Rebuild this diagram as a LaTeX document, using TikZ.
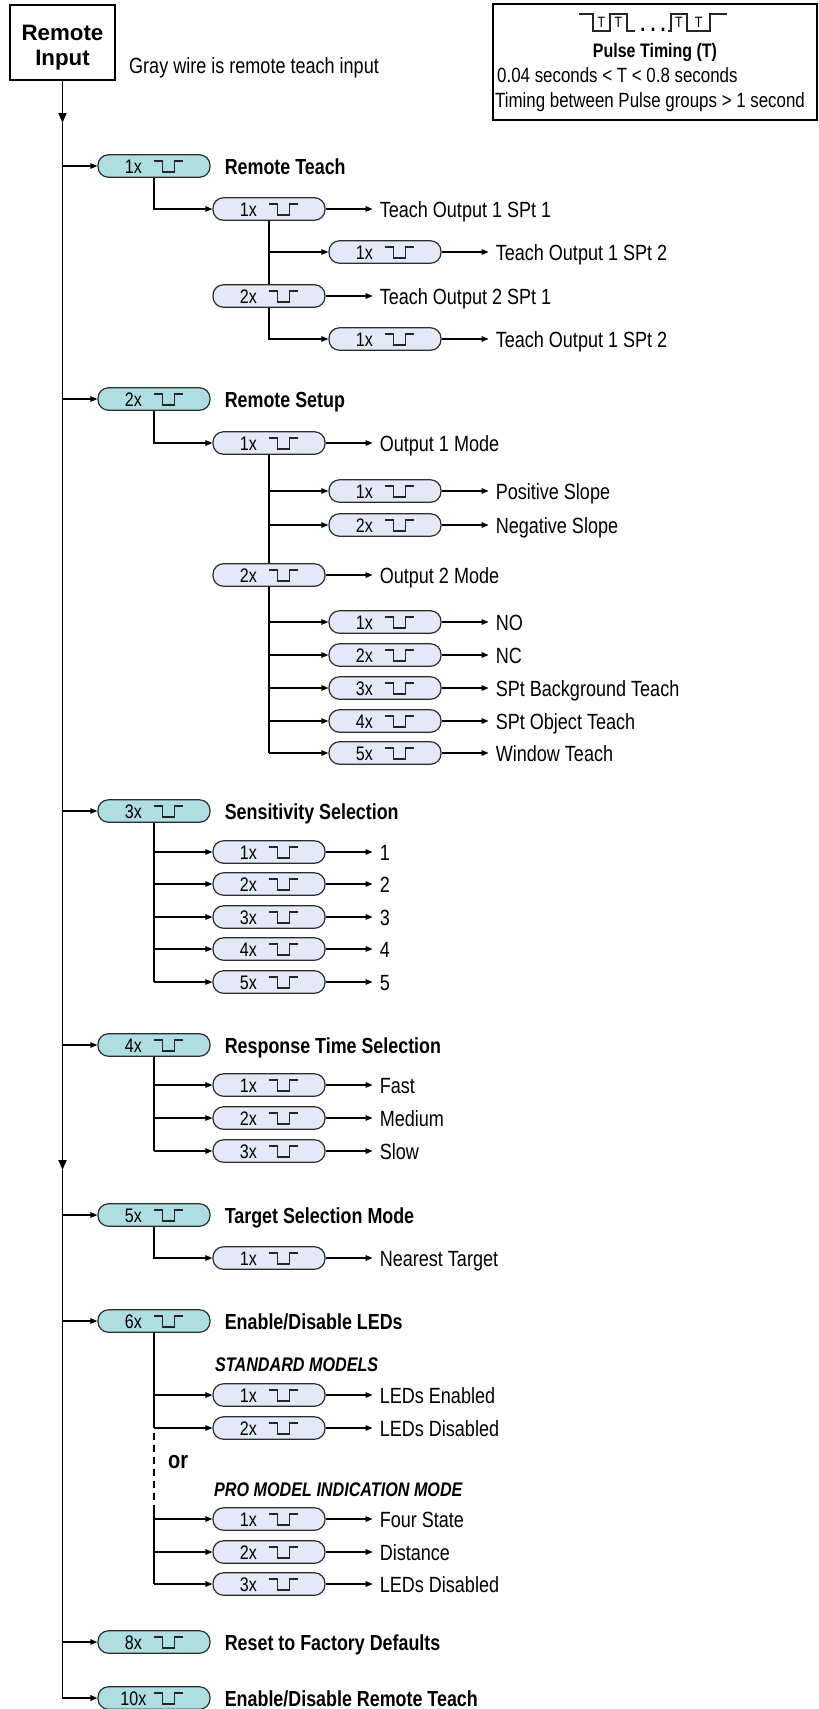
\documentclass[tikz,border=0pt]{standalone}
\usepackage{fontspec}
\setmainfont{Liberation Sans}[FakeStretch=0.82]
\newfontfamily\widesans{Liberation Sans}
\usetikzlibrary{arrows.meta,calc}
\definecolor{teal1}{RGB}{174,221,226}
\definecolor{lav}{RGB}{227,233,246}
\definecolor{pb}{RGB}{45,45,45}

\newcommand\mkpill[5]{%
  \node[#5] (#1) at (#2,#3) {};
  \node[pilltxt] (#1n) at ($(#1.west)+(36,7)$) {#4};
  \draw[pulseln] ($(#1.west)+(57,-5)$) -- ++(8,0) -- ++(0,11) -- ++(12,0) -- ++(0,-11) -- ++(9,0);
}
\newcommand\mklabel[2]{%
  \node[lbltxt] (#1l) at ($(#1.east)+(54,8)$) {#2};
  \draw[conn,shorten >=7pt] (#1.east) -- (#1.east -| #1l.west);
}
\newcommand\mkhead[2]{%
  \node[headtxt] (#1h) at ($(#1.east)+(14,8)$) {#2};
}

\begin{document}
\begin{tikzpicture}[x=1pt,y=-1pt,
  pillbase/.style={rectangle, rounded corners=10.5pt, minimum width=112pt, minimum height=22.5pt, draw=pb, line width=1.2pt, inner sep=0pt},
  pmain/.style={pillbase, fill=teal1},
  psub/.style={pillbase, fill=lav},
  pilltxt/.style={anchor=base, inner sep=0pt, font=\fontsize{19.6}{21}\selectfont},
  lbltxt/.style={anchor=base west, inner sep=0pt, font=\fontsize{22}{24}\selectfont},
  headtxt/.style={anchor=base west, inner sep=0pt, font=\bfseries\fontsize{21.8}{24}\selectfont},
  itlbl/.style={anchor=base west, inner sep=0pt, font=\bfseries\itshape\fontsize{19.7}{21}\selectfont},
  pulseln/.style={draw=black!85, line width=1.1pt},
  conn/.style={draw=black, line width=1.3pt, -{Triangle[length=7pt,width=5.5pt]}},
  trunk/.style={draw=black, line width=1.3pt},
  mainl/.style={draw=black, line width=1.8pt},
  bigtip/.style={-{Triangle[length=10pt,width=8pt]}},
  boxtxt/.style={anchor=base west, inner sep=0pt, font=\fontsize{20.6}{22}\selectfont},
  ttxt/.style={inner sep=0pt, font=\fontsize{15}{16}\selectfont},
  ritxt/.style={anchor=base, inner sep=0pt, font=\widesans\bfseries\fontsize{22.3}{24}\selectfont}
]
\useasboundingbox (0,0) rectangle (819,1709);
\fill[white] (0,0) rectangle (819,1709);

% Remote input box
\node[draw, line width=2.5pt, minimum width=105pt, minimum height=75pt, inner sep=0pt] (ri) at (62.5,42.5) {};
\node[ritxt] (ri1) at (62.5,40) {Remote};
\node[ritxt] (ri2) at (62.5,65) {Input};
\node[lbltxt] (gw) at (129,73) {Gray wire is remote teach input};

% Pulse timing box
\node[draw, line width=1.6pt, minimum width=324pt, minimum height=116pt, inner sep=0pt] (pt) at (655,62) {};
\draw[pulseln] (579,14) -- (593,14) -- (593,31) -- (610,31) -- (610,14) -- (627,14) -- (627,31) -- (635,31);
\draw[pulseln] (668,31) -- (671,31) -- (671,14) -- (687,14) -- (687,31) -- (710,31) -- (710,14) -- (727,14);
\node[ttxt] (t1) at (601.5,22.5) {T};
\node[ttxt] (t2) at (618.5,22.5) {T};
\node[ttxt] (t3) at (679,22.5) {T};
\node[ttxt] (t4) at (698.5,22.5) {T};
\node[anchor=base, inner sep=0pt, font=\bfseries\fontsize{22}{23}\selectfont] (dots) at (653,31.5) {.\hspace{5pt}.\hspace{5pt}.};
\node[anchor=base, inner sep=0pt, font=\bfseries\fontsize{19.5}{21}\selectfont] (ptt) at (655,57) {Pulse Timing (T)};
\node[boxtxt] (pt1) at (497,82) {0.04 seconds < T < 0.8 seconds};
\node[boxtxt] (pt2) at (495,107) {Timing between Pulse groups > 1 second};

% Remote Teach
\mkpill{p1}{154}{166}{1x}{pmain} \mkhead{p1}{Remote Teach}
\mkpill{s11}{269}{209}{1x}{psub} \mklabel{s11}{Teach Output 1 SPt 1}
\mkpill{s12}{385}{252}{1x}{psub} \mklabel{s12}{Teach Output 1 SPt 2}
\mkpill{s13}{269}{296}{2x}{psub} \mklabel{s13}{Teach Output 2 SPt 1}
\mkpill{s14}{385}{339}{1x}{psub} \mklabel{s14}{Teach Output 1 SPt 2}
\draw[conn] (p1.south) |- (s11.west);
\draw[trunk] (s11.south) -- (s13.north);
\draw[conn] (s11.south |- s12.west) -- (s12.west);
\draw[conn] (s13.south) |- (s14.west);

% Remote Setup
\mkpill{p2}{154}{399}{2x}{pmain} \mkhead{p2}{Remote Setup}
\mkpill{s21}{269}{443}{1x}{psub} \mklabel{s21}{Output 1 Mode}
\mkpill{s22}{385}{491}{1x}{psub} \mklabel{s22}{Positive Slope}
\mkpill{s23}{385}{525}{2x}{psub} \mklabel{s23}{Negative Slope}
\mkpill{s24}{269}{575}{2x}{psub} \mklabel{s24}{Output 2 Mode}
\mkpill{s25}{385}{622}{1x}{psub} \mklabel{s25}{NO}
\mkpill{s26}{385}{655}{2x}{psub} \mklabel{s26}{NC}
\mkpill{s27}{385}{688}{3x}{psub} \mklabel{s27}{SPt Background Teach}
\mkpill{s28}{385}{721}{4x}{psub} \mklabel{s28}{SPt Object Teach}
\mkpill{s29}{385}{753}{5x}{psub} \mklabel{s29}{Window Teach}
\draw[conn] (p2.south) |- (s21.west);
\draw[trunk] (s21.south) -- (s24.north);
\foreach \s in {s22,s23} \draw[conn] (s21.south |- \s.west) -- (\s.west);
\draw[trunk] (s24.south) -- (s24.south |- s29.west);
\foreach \s in {s25,s26,s27,s28,s29} \draw[conn] (s24.south |- \s.west) -- (\s.west);

% Sensitivity
\mkpill{p3}{154}{811}{3x}{pmain} \mkhead{p3}{Sensitivity Selection}
\mkpill{s31}{269}{852}{1x}{psub} \mklabel{s31}{1}
\mkpill{s32}{269}{884}{2x}{psub} \mklabel{s32}{2}
\mkpill{s33}{269}{917}{3x}{psub} \mklabel{s33}{3}
\mkpill{s34}{269}{949}{4x}{psub} \mklabel{s34}{4}
\mkpill{s35}{269}{982}{5x}{psub} \mklabel{s35}{5}
\draw[trunk] (p3.south) -- (p3.south |- s35.west);
\foreach \s in {s31,s32,s33,s34,s35} \draw[conn] (p3.south |- \s.west) -- (\s.west);

% Response time
\mkpill{p4}{154}{1045}{4x}{pmain} \mkhead{p4}{Response Time Selection}
\mkpill{s41}{269}{1085}{1x}{psub} \mklabel{s41}{Fast}
\mkpill{s42}{269}{1118}{2x}{psub} \mklabel{s42}{Medium}
\mkpill{s43}{269}{1151}{3x}{psub} \mklabel{s43}{Slow}
\draw[trunk] (p4.south) -- (p4.south |- s43.west);
\foreach \s in {s41,s42,s43} \draw[conn] (p4.south |- \s.west) -- (\s.west);

% Target selection
\mkpill{p5}{154}{1215}{5x}{pmain} \mkhead{p5}{Target Selection Mode}
\mkpill{s51}{269}{1258}{1x}{psub} \mklabel{s51}{Nearest Target}
\draw[conn] (p5.south) |- (s51.west);

% LEDs
\mkpill{p6}{154}{1321}{6x}{pmain} \mkhead{p6}{Enable/Disable LEDs}
\node[itlbl] (std) at (215,1371) {STANDARD MODELS};
\mkpill{s61}{269}{1395}{1x}{psub} \mklabel{s61}{LEDs Enabled}
\mkpill{s62}{269}{1428}{2x}{psub} \mklabel{s62}{LEDs Disabled}
\node[anchor=base west, inner sep=0pt, font=\bfseries\fontsize{24.4}{26}\selectfont] (ortxt) at (168,1468) {or};
\node[itlbl] (pro) at (214,1496) {PRO MODEL INDICATION MODE};
\mkpill{s63}{269}{1519}{1x}{psub} \mklabel{s63}{Four State}
\mkpill{s64}{269}{1552}{2x}{psub} \mklabel{s64}{Distance}
\mkpill{s65}{269}{1584}{3x}{psub} \mklabel{s65}{LEDs Disabled}
\coordinate (d1) at (154,1507);
\draw[trunk] (p6.south) -- (p6.south |- s62.west);
\foreach \s in {s61,s62} \draw[conn] (p6.south |- \s.west) -- (\s.west);
\draw[trunk, dash pattern=on 7pt off 5pt, dash phase=7pt] (p6.south |- s62.west) -- (d1);
\draw[trunk] (d1) -- (d1 |- s65.west);
\foreach \s in {s63,s64,s65} \draw[conn] (d1 |- \s.west) -- (\s.west);

% Reset / remote teach
\mkpill{p8}{154}{1642}{8x}{pmain} \mkhead{p8}{Reset to Factory Defaults}
\mkpill{p10}{154}{1698}{10x}{pmain} \mkhead{p10}{Enable/Disable Remote Teach}

% Main trunk
\coordinate (a1) at (62.5,123);
\coordinate (a2) at (62.5,1170);
\draw[mainl,bigtip] (ri.south) -- (a1);
\draw[mainl,bigtip] (a1) -- (a2);
\draw[mainl,-{Triangle[length=7pt,width=5.5pt]}] (a2) |- (p10.west);
\foreach \p in {p1,p2,p3,p4,p5,p6,p8} \draw[conn] (a1 |- \p.west) -- (\p.west);
\end{tikzpicture}
\end{document}
